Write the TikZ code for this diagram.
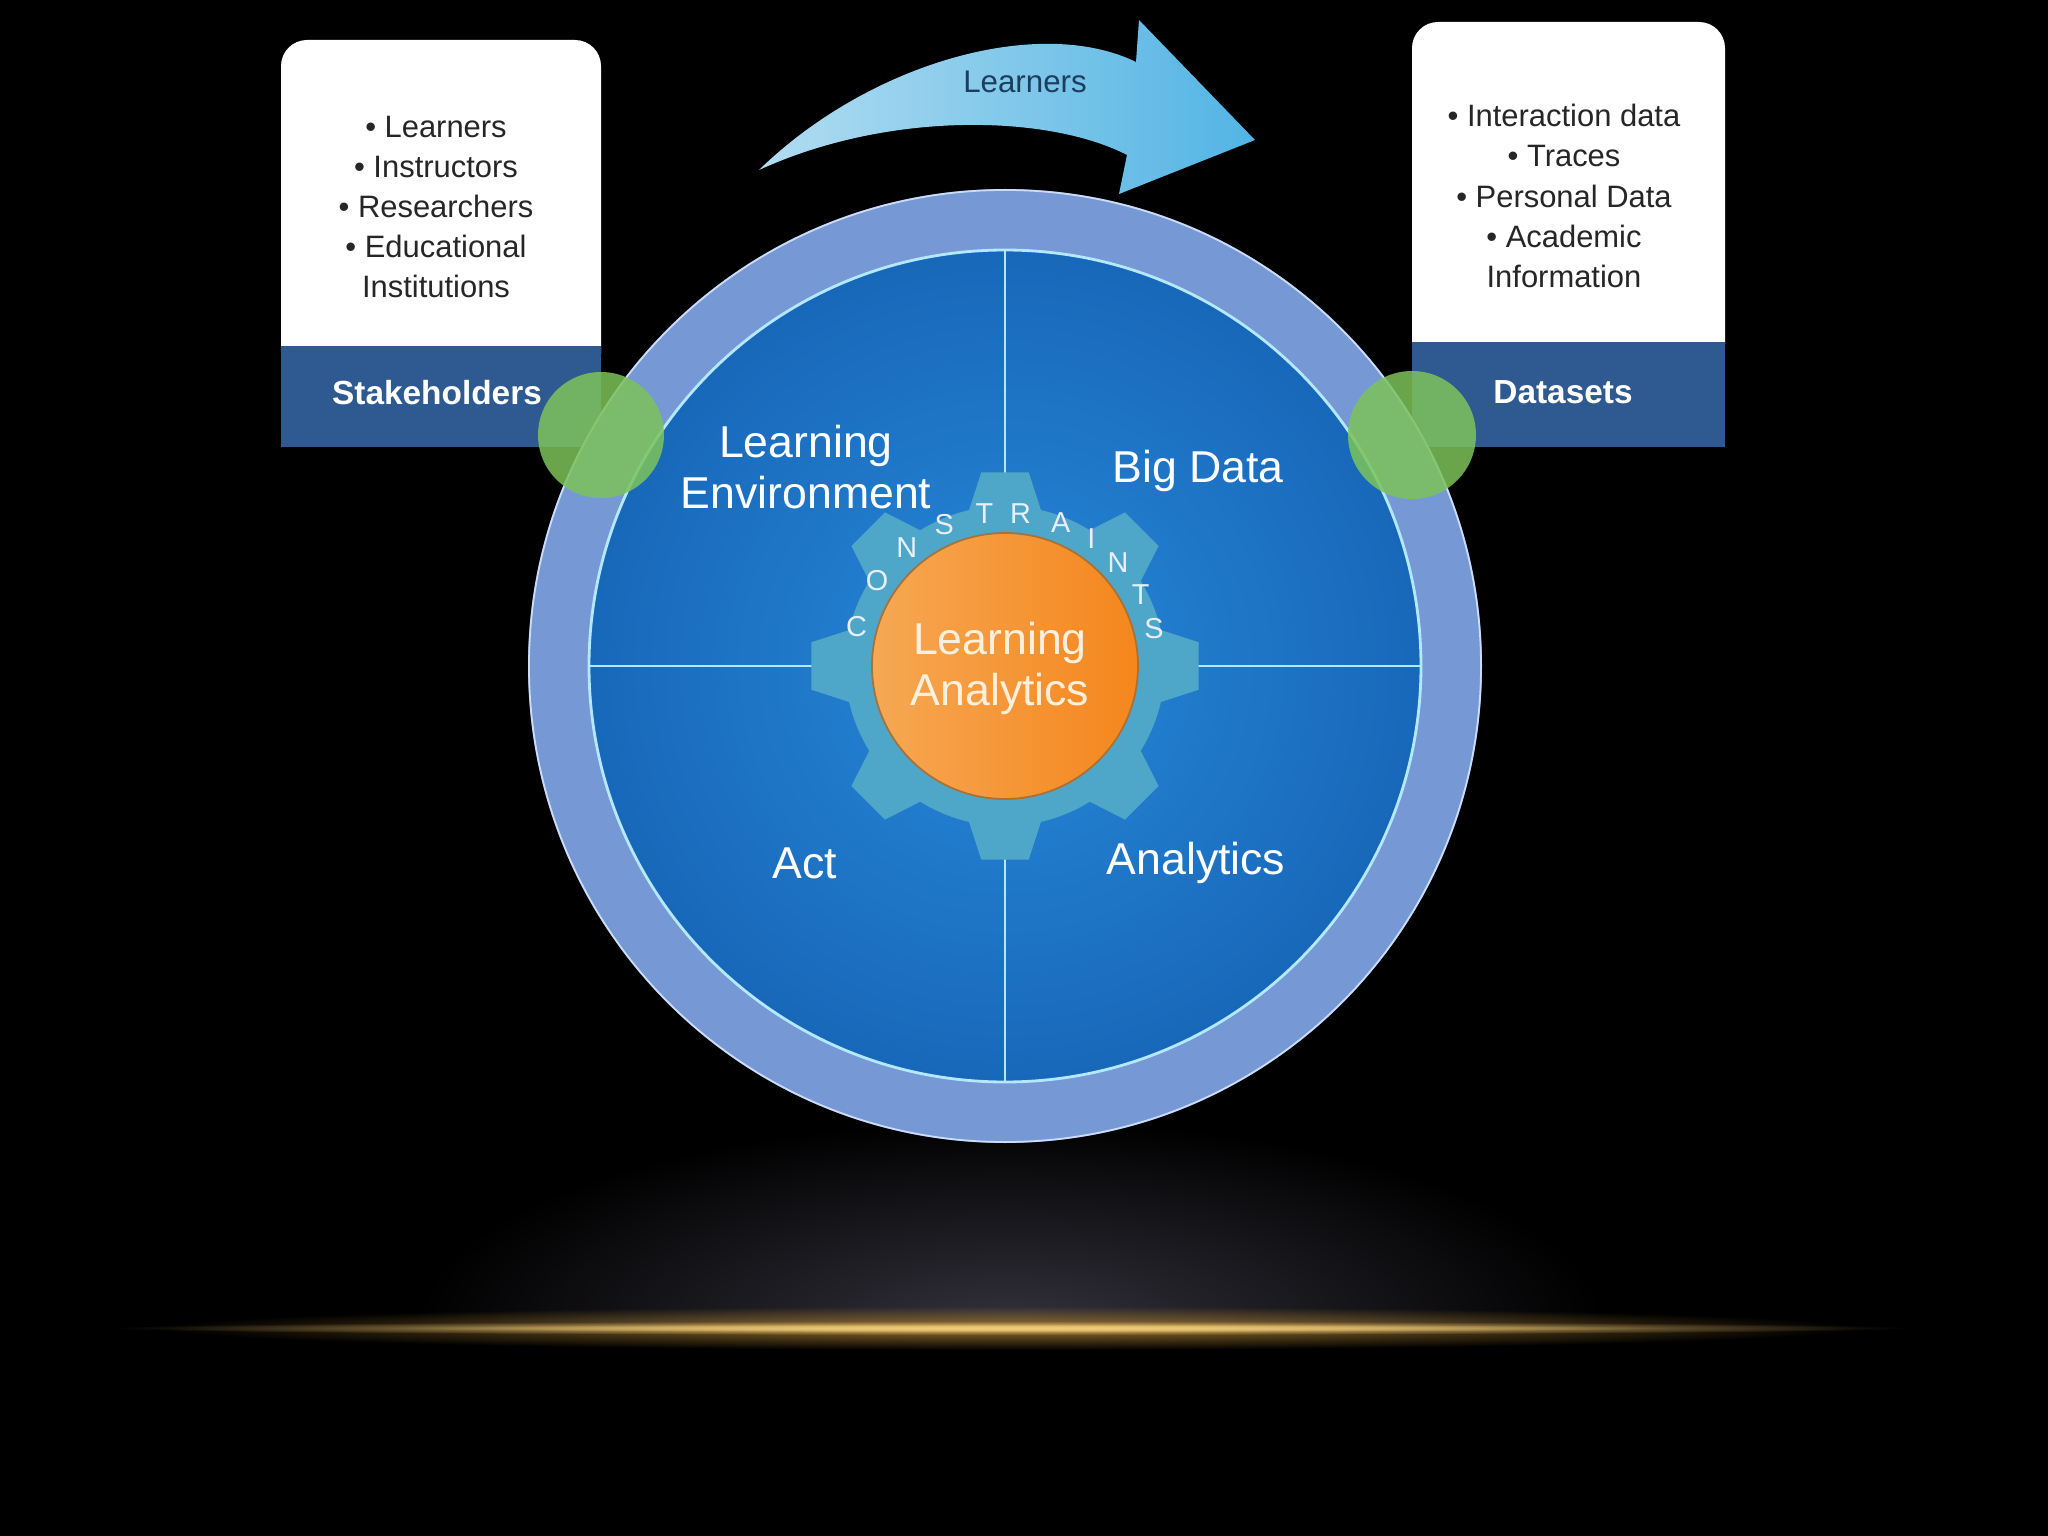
\documentclass[tikz,border=0pt]{standalone}
\usepackage{fontspec}
\setmainfont{Liberation Sans}
\usepackage{tikz}
\usetikzlibrary{fadings}

\definecolor{bandblue}{RGB}{46,90,145}
\definecolor{ringblue}{RGB}{118,153,214}
\definecolor{ringedge}{RGB}{205,220,245}
\definecolor{discin}{RGB}{40,136,216}
\definecolor{discout}{RGB}{24,104,186}
\definecolor{discline}{RGB}{180,232,255}
\definecolor{gearteal}{RGB}{78,166,200}
\definecolor{orangeA}{RGB}{246,168,84}
\definecolor{orangeB}{RGB}{245,134,28}
\definecolor{orangeedge}{RGB}{170,112,52}
\definecolor{centretextc}{RGB}{255,240,222}
\definecolor{letterc}{RGB}{232,238,250}
\definecolor{leafgreen}{RGB}{125,195,90}
\definecolor{arrowA}{RGB}{178,221,241}
\definecolor{arrowB}{RGB}{82,180,228}
\definecolor{navytext}{RGB}{28,61,92}
\definecolor{goldline}{RGB}{240,204,120}
\definecolor{golddim}{RGB}{150,112,45}
\definecolor{glowgrey}{RGB}{52,50,60}

\tikzfading[name=softglow,inner color=transparent!0,outer color=transparent!100]

\begin{document}
\begin{tikzpicture}[
  listtext/.style={align=center,text=black!85,font=\fontsize{8.8pt}{11.4pt}\selectfont},
  bandtext/.style={text=white,font=\bfseries\fontsize{9.5pt}{11pt}\selectfont},
  quadtext/.style={align=center,text=white,font=\fontsize{12.7pt}{14.5pt}\selectfont},
  centretext/.style={quadtext,text=centretextc},
  gearletter/.style={text=letterc,font=\fontsize{8.2pt}{9pt}\selectfont,inner sep=0pt},
  leaf/.style={fill=leafgreen,fill opacity=0.85}]

\fill[black] (0,0) rectangle (20.48,-15.36);
\useasboundingbox (0,0) rectangle (20.48,-15.36);

\begin{scope}
\clip (0,-13.28) rectangle (20.48,-9);
\fill[glowgrey,path fading=softglow] (10.1,-13.28) ellipse (6.0 and 2.1);
\end{scope}
\fill[golddim,path fading=softglow] (10.1,-13.28) ellipse (8.5 and 0.22);
\fill[goldline,path fading=softglow] (10.1,-13.28) ellipse (9.0 and 0.07);
\fill[goldline,path fading=softglow] (10.3,-13.28) ellipse (6.5 and 0.04);

\shade[left color=arrowA,right color=arrowB] (7.59,-1.70) .. controls (8.7,-0.62) and (10.4,-0.15) .. (11.36,-0.62) -- (11.39,-0.20) -- (12.55,-1.40) -- (11.19,-1.94) -- (11.27,-1.55) .. controls (10.5,-1.15) and (8.9,-1.10) .. cycle;
\node (AL) [text=navytext,font=\fontsize{8.9pt}{10pt}\selectfont] at (10.25,-0.82) {Learners};

\fill[white,rounded corners=0.26cm] (2.81,-0.40) rectangle (6.01,-3.8);
\fill[white] (2.81,-1.0) rectangle (6.01,-3.8);
\fill[bandblue] (2.81,-3.46) rectangle (6.01,-4.47);
\draw (4.36,-2.07) node (SL) [listtext] {\textbullet\ Learners\\\textbullet\ Instructors\\\textbullet\ Researchers\\\textbullet\ Educational\\Institutions} +(0.01,-1.86) node (SB) [bandtext] {Stakeholders};

\fill[white,rounded corners=0.26cm] (14.12,-0.22) rectangle (17.25,-3.7);
\fill[white] (14.12,-0.8) rectangle (17.25,-3.7);
\fill[bandblue] (14.12,-3.42) rectangle (17.25,-4.47);
\draw (15.64,-1.96) node (DL) [listtext] {\textbullet\ Interaction data\\\textbullet\ Traces\\\textbullet\ Personal Data\\\textbullet\ Academic\\Information} +(-0.01,-1.96) node (DB) [bandtext] {Datasets};

\begin{scope}[shift={(10.05,-6.66)}]
\fill[ringblue] (0,0) circle (4.77);
\draw[ringedge,line width=0.5pt] (0,0) circle (4.76);
\shade[inner color=discin,outer color=discout] (0,0) circle (4.16);
\draw[discline,line width=0.8pt] (0,0) circle (4.16);
\draw[discline,line width=0.8pt] (0,4.16) -- (0,-4.16) (-4.16,0) -- (4.16,0);

\fill[gearteal] (-13:1.60) \foreach \a in {0,45,...,315} { -- ({\a-13}:1.60) -- ({\a-7}:1.95) -- ({\a+7}:1.95) -- ({\a+13}:1.60) arc[start angle={\a+13},end angle={\a+32},radius=1.60] } -- cycle;
\shadedraw[left color=orangeA,right color=orangeB,draw=orangeedge,line width=0.5pt] (0,0) circle (1.33);

\foreach \l/\ang [count=\i] in {C/165.3,O/146.4,N/129.8,S/113.3,T/97.7,R/84.2,A/68.7,I/55.8,N/42.6,T/27.9,S/14}
  \node (K\i) [gearletter] at (\ang:1.535) {\l};

\draw (-0.05,-0.02) node (LA) [centretext] {Learning\\Analytics} +(-1.94,2.005) node (Q1) [quadtext] {Learning\\Environment} +(1.98,1.97) node (Q2) [quadtext] {Big Data} +(-1.955,-1.95) node (Q3) [quadtext] {Act} +(1.96,-1.95) node (Q4) [quadtext] {Analytics};
\end{scope}

\fill[leaf] (6.01,-4.35) circle (0.63);
\fill[leaf] (14.12,-4.35) circle (0.64);
\end{tikzpicture}
\end{document}
